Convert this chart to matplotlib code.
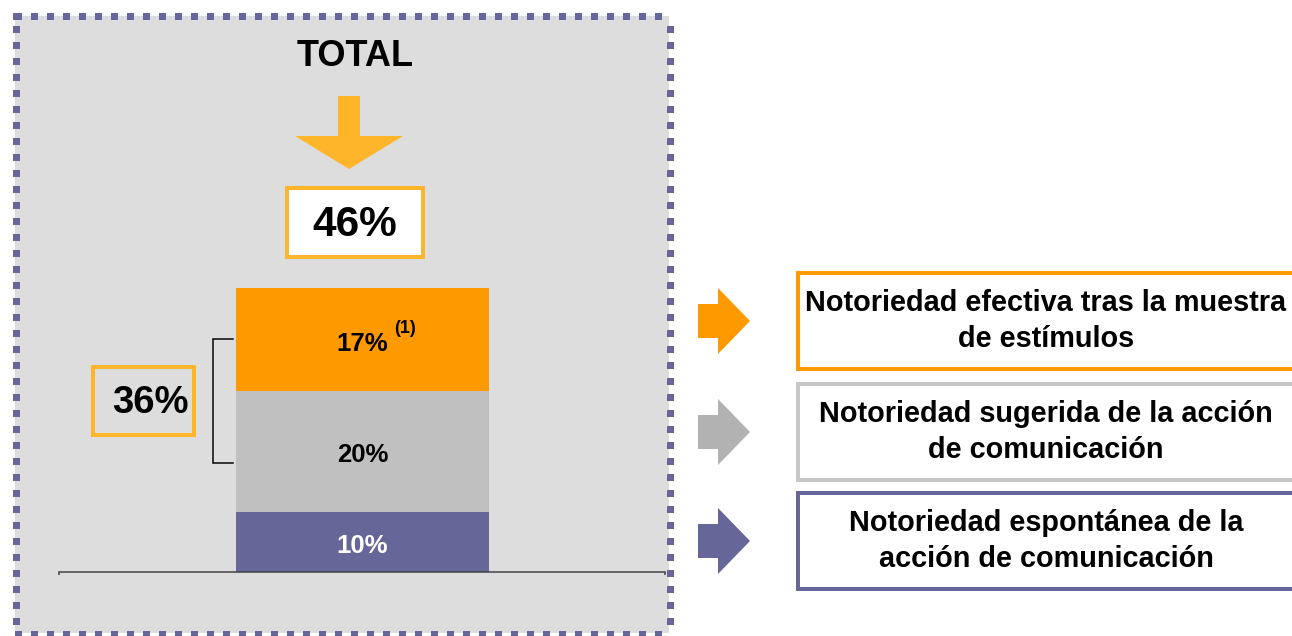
import matplotlib
matplotlib.use("Agg")
import numpy as np
import matplotlib.pyplot as plt
from matplotlib.patches import Rectangle, Polygon

plt.rcParams['font.family'] = ['Liberation Sans', 'DejaVu Sans']

# Stacked bar segments, bottom to top
segments = ["Notoriedad espontánea de la\nacción de comunicación",
            "Notoriedad sugerida de la acción\nde comunicación",
            "Notoriedad efectiva tras la muestra\nde estímulos"]
values = [10, 20, 17]
seg_labels = ["10%", "20%", "17%"]
seg_colors = ["#666699", "#C0C0C0", "#FF9900"]
label_colors = ["white", "black", "black"]
arrow_colors = ["#666699", "#B2B2B2", "#FF9900"]
box_edges = ["#666699", "#C8C8C8", "#FF9900"]
footnote = "(1)"
total_label = "46%"
bracket_label = "36%"
title = "TOTAL"

W, H = 1292, 636
fig = plt.figure(figsize=(W / 100, H / 100), dpi=100)

# Background layer in pixel coordinates
bg = fig.add_axes([0, 0, 1, 1])
bg.set_xlim(0, W)
bg.set_ylim(H, 0)
bg.axis("off")
bg.set_zorder(0)

panel_gray = "#DDDDDD"
accent = "#FFB52A"
px = 0.72  # points per pixel

bg.add_patch(Rectangle((15, 16), 654, 617, facecolor=panel_gray, edgecolor="none"))

# dotted frame made of small squares
x0, x1, y0, y1 = 15.5, 669.5, 15.5, 634.0
xs = np.arange(18.0, x1 - 4, 16.0)
ys = np.arange(13.0 + 16, y1 - 4, 16.0)
dot_x = np.concatenate([[x0], xs, xs, np.full(len(ys), x0), np.full(len(ys), x1)])
dot_y = np.concatenate([[y0], np.full(len(xs), y0), np.full(len(xs), y1), ys, ys])
bg.scatter(dot_x, dot_y, marker="s", s=(7 * px) ** 2, color="#666699",
           linewidths=0, zorder=3)

bg.text(355, 57, title, ha="center", va="center", fontsize=26, fontweight="bold")

# Down arrow pointing at the total
bg.add_patch(Polygon([(338, 96), (360, 96), (360, 136), (403, 136), (349, 169),
                      (295, 136), (338, 136)], closed=True, facecolor=accent,
                     edgecolor="none"))

# Total box
bg.add_patch(Rectangle((287, 188), 136, 69, facecolor="white", edgecolor=accent, lw=4 * px))
bg.text(355, 225, total_label, ha="center", va="center", fontsize=30.5, fontweight="bold")

# Bracketed subtotal box
bg.add_patch(Rectangle((93, 367), 101, 68, facecolor="none", edgecolor=accent, lw=4 * px))
bg.text(150, 403, bracket_label, ha="center", va="center", fontsize=27.5, fontweight="bold")

# Legend column: arrows and framed descriptions
box_tops = [491, 382, 271]
for i, top in enumerate(box_tops):
    cy = top + 50
    bg.add_patch(Polygon([(698, cy - 17), (718, cy - 17), (718, cy - 33), (750, cy),
                          (718, cy + 33), (718, cy + 17), (698, cy + 17)], closed=True,
                         facecolor=arrow_colors[i], edgecolor="none"))
    bg.add_patch(Rectangle((798, top + 2), 520, 96, facecolor="white",
                           edgecolor=box_edges[i], lw=4 * px, clip_on=True))
    bg.text(1046, cy, segments[i], ha="center", va="center", fontsize=20.8,
            fontweight="bold", linespacing=1.36)

# Bar chart layer
y_px_per_unit = 6.04
ymax = 50
unit_px = 316.25
ax_l, ax_r, ax_b = 59, 665, 572
x_left = -(362.5 - ax_l) / unit_px
x_right = (ax_r - 362.5) / unit_px
ax = fig.add_axes([ax_l / W, (H - ax_b) / H, (ax_r - ax_l) / W, ymax * y_px_per_unit / H])
ax.set_zorder(1)
ax.patch.set_visible(False)
ax.set_xlim(x_left, x_right)
ax.set_ylim(0, ymax)
for s in ["top", "right", "left"]:
    ax.spines[s].set_visible(False)
ax.spines["bottom"].set_color("#404040")
ax.spines["bottom"].set_linewidth(1.5 * px)
ax.set_xticks([x_left, x_right])
ax.set_xticklabels([])
ax.tick_params(axis="x", direction="out", length=3 * px, width=1.5 * px, color="#404040")
ax.set_yticks([])

bottom = 0
for v, lab, c, tc in zip(values, seg_labels, seg_colors, label_colors):
    ax.bar(0, v, width=0.8, bottom=bottom, color=c, edgecolor="none")
    ax.annotate(lab, (0, bottom + v / 2), xytext=(0, -3), textcoords="offset points",
                ha="center", va="center", fontsize=18.5, fontweight="bold", color=tc)
    bottom += v

# footnote marker beside the top segment label
top_mid = values[0] + values[1] + values[2] / 2
ax.annotate(footnote, (0, top_mid), xytext=(30.5, 8), textcoords="offset points",
            ha="center", va="center", fontsize=13, fontweight="bold")

# bracket spanning the upper two segments
y_lo = values[0] + values[1] * 0.4
y_hi = values[0] + values[1] + values[2] / 2
xb, xt = -0.4727, -0.4095
ax.plot([xt, xb, xb, xt], [y_hi, y_hi, y_lo, y_lo], color="black", lw=1.5 * px,
        solid_joinstyle="miter")

fig.savefig("out.png", dpi=100)
